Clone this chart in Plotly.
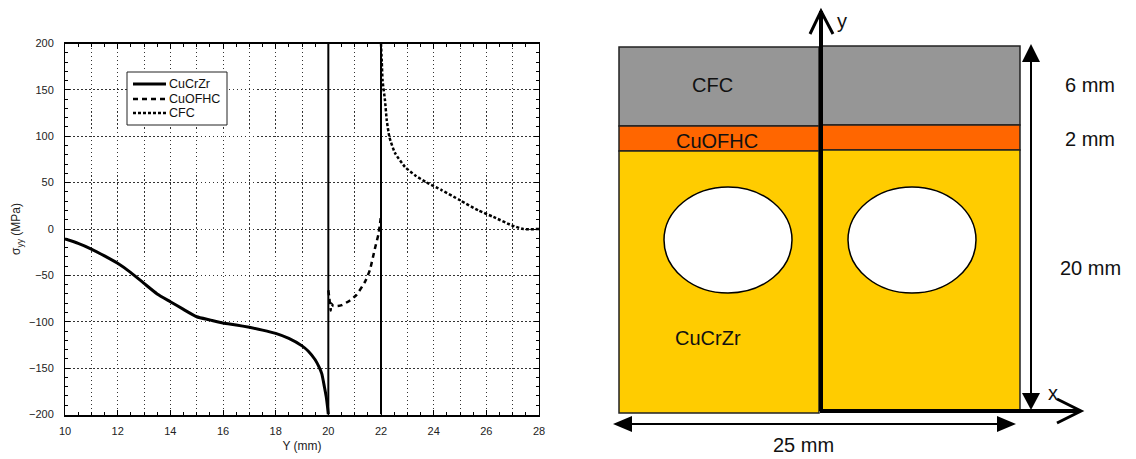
import plotly.graph_objects as go

FONT = "Liberation Sans"
W, H = 1136, 459

# ---- Chart data ----
cucrzr_y = [10, 10.5, 11, 11.5, 12, 12.5, 13, 13.5, 14, 14.5, 15, 15.5, 16, 16.5, 17, 17.5, 18, 18.5, 19, 19.25, 19.5, 19.65, 19.75, 19.85, 19.92, 19.97, 20]
cucrzr_s = [-10.8, -15.5, -21.6, -29, -37, -47, -58.6, -70, -78.4, -86.7, -94.6, -98, -101.4, -103.5, -106, -109, -112.6, -118, -126, -132, -141, -149, -156, -170, -181, -192, -200]
cuofhc_y = [20.0, 20.04, 20.09, 20.1, 20.19, 20.35, 20.51, 20.82, 21.07, 21.39, 21.58, 21.77, 21.9, 21.96, 22.0]
cuofhc_s = [-66, -75, -88, -80, -83, -83, -82, -77, -71, -57, -44, -21, -6, 5, 15]
cfc_y = [22.0, 22.03, 22.06, 22.15, 22.22, 22.32, 22.53, 22.91, 23.29, 23.74, 24.3, 25.0, 25.7, 26.27, 26.96, 27.4, 28.0]
cfc_s = [200, 180, 160, 139, 117, 99, 82, 67, 58, 50, 42, 31, 20, 13, 4, 0, 0]
interface_y = [20, 22]

series_names = ["CuCrZr", "CuOFHC", "CFC"]
series_dash = ["solid", "5px,4px", "3px,2px"]
series_width = [3, 2.5, 2.5]
legend_rows = [84, 99, 113]

# ---- Schematic geometry (page pixels) ----
left_x = [619, 819]
right_x = [822, 1020]
left_levels = [47, 126, 151, 413]
right_levels = [46, 125, 150, 410]
layer_colors = ["#969696", "#FF6600", "#FFCC00"]
holes_cx = [728, 912]
hole_cy, hole_rx, hole_ry = 240, 64, 53
labels = [("CFC", 712, 85), ("CuOFHC", 717, 141), ("CuCrZr", 708, 338), ("6 mm", 1090, 85),
          ("2 mm", 1090, 139), ("20 mm", 1090, 268), ("25 mm", 803, 445), ("y", 842, 21), ("x", 1053, 393)]

fig = go.Figure()
# carrier for the odd-integer gridlines
fig.add_trace(go.Scatter(x=[10, 28], y=[0, 0], mode="lines", xaxis="x3", yaxis="y", showlegend=False,
                         hoverinfo="skip", line=dict(color="rgba(0,0,0,0)", width=0)))
xs = [cucrzr_y, cuofhc_y, cfc_y]
ys = [cucrzr_s, cuofhc_s, cfc_s]
for name, x, y, d, w in zip(series_names, xs, ys, series_dash, series_width):
    fig.add_trace(go.Scatter(x=x, y=y, name=name, mode="lines", showlegend=False,
                             line=dict(color="black", width=w, dash=d, shape="spline", smoothing=0.5)))
for xi in interface_y:
    fig.add_trace(go.Scatter(x=[xi, xi], y=[-200, 200], mode="lines", showlegend=False,
                             line=dict(color="black", width=2)))

# manual legend, on the page-pixel axes
for name, row, d, w in zip(series_names, legend_rows, series_dash, series_width):
    fig.add_trace(go.Scatter(x=[133, 166], y=[row, row], mode="lines", xaxis="x2", yaxis="y2", showlegend=False,
                             hoverinfo="skip", line=dict(color="black", width=w, dash=d)))

shapes = [dict(type="rect", xref="x2", yref="y2", x0=127, x1=227, y0=72, y1=125,
               line=dict(color="#222", width=1), fillcolor="white", layer="below")]
annots = [dict(xref="x2", yref="y2", x=167, y=r, text=n, showarrow=False, xanchor="left", yanchor="middle",
               font=dict(family=FONT, size=12.5, color="#111")) for n, r in zip(series_names, legend_rows)]

def rect(x0, x1, y0, y1, color):
    shapes.append(dict(type="rect", xref="x2", yref="y2", x0=x0, x1=x1, y0=y0, y1=y1,
                       fillcolor=color, line=dict(color="#222", width=1.5)))

for (x0, x1), lv in ((left_x, left_levels), (right_x, right_levels)):
    for i, c in enumerate(layer_colors):
        rect(x0, x1, lv[i], lv[i + 1], c)
for cx in holes_cx:
    shapes.append(dict(type="circle", xref="x2", yref="y2", x0=cx - hole_rx, x1=cx + hole_rx,
                       y0=hole_cy - hole_ry, y1=hole_cy + hole_ry, fillcolor="white",
                       line=dict(color="black", width=1.5)))

def path(d, width=0, fill=None):
    shapes.append(dict(type="path", xref="x2", yref="y2", path=d,
                       line=dict(color="black", width=width), fillcolor=fill or "rgba(0,0,0,0)"))

path("M821,411 L821,11", 4)
path("M810,34 L821,11 L833,34", 3)
path("M820,411 L1080,411", 4)
path("M1057,399 L1081,411 L1057,423", 3)
path("M1031,60 L1031,395", 2)
path("M1031,44 L1022,62 L1040,62 Z", 0, "black")
path("M1031,410 L1022,393 L1040,393 Z", 0, "black")
path("M630,424 L1000,424", 2)
path("M613,424 L632,416 L632,432 Z", 0, "black")
path("M1016,424 L997,416 L997,432 Z", 0, "black")

for t, x, y in labels:
    annots.append(dict(xref="x2", yref="y2", x=x, y=y, text=t, showarrow=False,
                       font=dict(family=FONT, size=20, color="#111")))

GRID = dict(showgrid=True, gridcolor="#333", griddash="1.5px,2.5px", gridwidth=1)
axis_common = dict(showline=True, linecolor="black", mirror="ticks", ticks="inside",
                   tickcolor="black", ticklen=5, zeroline=False,
                   tickfont=dict(family=FONT, size=11, color="#222"), automargin=False,
                   title_font=dict(family=FONT, size=12, color="#222"), **GRID)

fig.update_layout(
    width=W, height=H, autosize=False, margin=dict(l=0, r=0, t=0, b=0),
    paper_bgcolor="white", plot_bgcolor="rgba(0,0,0,0)", showlegend=False, shapes=shapes, annotations=annots,
    xaxis=dict(domain=[65 / W, 539 / W], range=[10, 28], dtick=2, tick0=10, linewidth=2, ticklabelstandoff=5,
               title=dict(text="Y (mm)", standoff=6),
               minor=dict(dtick=0.5, ticks="inside", ticklen=3, tickcolor="black", showgrid=False),
               anchor="y", **axis_common),
    yaxis=dict(domain=[1 - 414.5 / H, 1 - 43.5 / H], range=[-200, 200], dtick=50, tick0=-200, linewidth=1,
               ticklabelstandoff=8, title=dict(text="σ<sub>yy</sub> (MPa)", standoff=5),
               minor=dict(dtick=10, ticks="inside", ticklen=3, tickcolor="black", showgrid=False),
               anchor="x", **axis_common),
    xaxis2=dict(domain=[0, 1], range=[0, W], visible=False, anchor="y2", fixedrange=True),
    yaxis2=dict(domain=[0, 1], range=[H, 0], visible=False, anchor="x2", fixedrange=True),
    xaxis3=dict(overlaying="x", anchor="y", range=[10, 28], dtick=1, tick0=10, showticklabels=False, ticks="",
                showline=False, zeroline=False, **GRID),
)
fig.write_html("out.html", config=dict(displayModeBar=False),
               post_script="document.body.style.margin='0';")
